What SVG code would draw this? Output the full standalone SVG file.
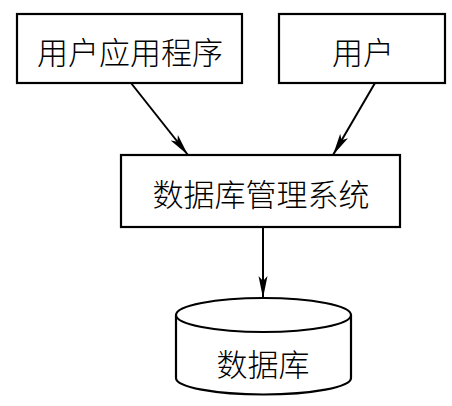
<svg xmlns="http://www.w3.org/2000/svg" width="452" height="406" viewBox="0 0 452 406">
<style>
.box{fill:#fff;stroke:#000;stroke-width:2.2}
.lbl{font-family:"Noto Sans CJK SC","Noto Sans CJK TC",sans-serif;font-size:31px;fill:#000;text-anchor:middle;dominant-baseline:central;font-weight:300}
.conn{stroke:#000;stroke-width:2;fill:none;marker-end:url(#arr)}
</style>
<defs>
<marker id="arr" viewBox="0 0 22 10" refX="22" refY="5" markerWidth="22" markerHeight="10" markerUnits="userSpaceOnUse" orient="auto">
<path d="M0,0.5 L22,5 L0,9.5 L5,5 Z" fill="#000"/>
</marker>
</defs>
<rect width="452" height="406" fill="#fff"/>
<g id="connectors">
<line class="conn" x1="131" y1="83" x2="188" y2="155"/>
<line class="conn" x1="375" y1="83" x2="333" y2="155"/>
<line class="conn" x1="263" y1="227" x2="263" y2="298"/>
</g>
<g id="app">
<rect class="box" x="17" y="14" width="225" height="69"/>
<text class="lbl" x="130" y="50">用户应用程序</text>
</g>
<g id="user">
<rect class="box" x="279" y="14" width="166" height="69"/>
<text class="lbl" x="363" y="50">用户</text>
</g>
<g id="dbms">
<rect class="box" x="121" y="155" width="279" height="72"/>
<text class="lbl" x="261" y="192">数据库管理系统</text>
</g>
<g id="db">
<path class="box" d="M176,315 L176,378 A87.5,16.5 0 0 0 351,378 L351,315"/>
<ellipse class="box" cx="263.5" cy="315" rx="87.5" ry="17"/>
<text class="lbl" x="263" y="362">数据库</text>
</g>
</svg>
